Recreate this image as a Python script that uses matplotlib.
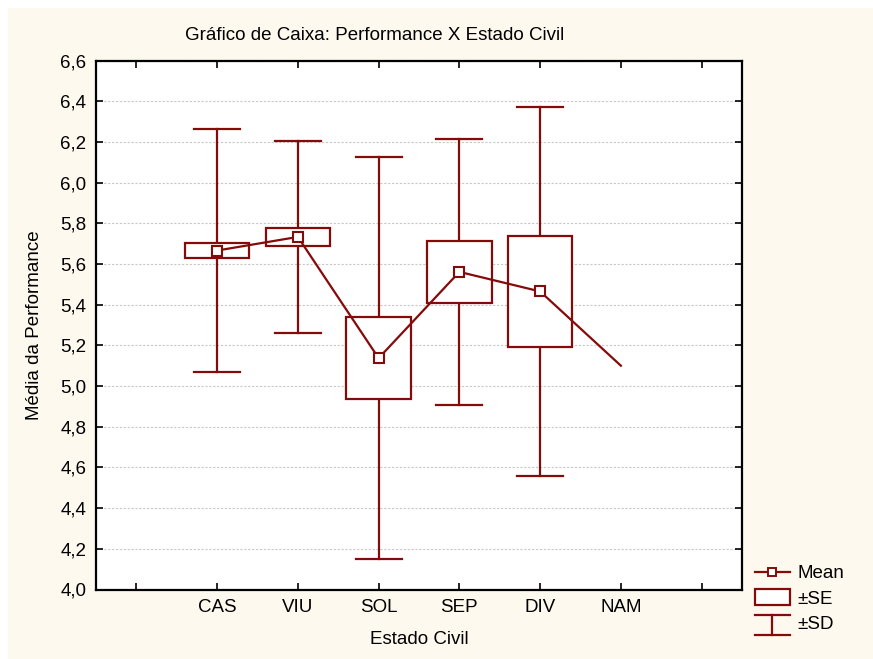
import matplotlib
matplotlib.use("Agg")
import matplotlib.pyplot as plt
from matplotlib.patches import Rectangle
from matplotlib.lines import Line2D
from matplotlib.legend_handler import HandlerBase

plt.rcParams['font.family'] = ['Liberation Sans', 'DejaVu Sans']

categories = ["CAS", "VIU", "SOL", "SEP", "DIV", "NAM"]
means = [5.666, 5.733, 5.137, 5.561, 5.465, 5.100]
se = [0.037, 0.045, 0.200, 0.153, 0.272, None]
sd = [0.597, 0.471, 0.988, 0.654, 0.906, None]
y_ticks = [4.0, 4.2, 4.4, 4.6, 4.8, 5.0, 5.2, 5.4, 5.6, 5.8, 6.0, 6.2, 6.4, 6.6]

RED = "#850a0a"
FS = 13.5
W, H = 873, 659
fig = plt.figure(figsize=(W / 100, H / 100), dpi=100, facecolor="white")
fig.patches.append(Rectangle((8 / W, 0), 1, 1 - 8 / H, transform=fig.transFigure,
                             facecolor="#fef9ee", edgecolor="none", zorder=-10))

ax = fig.add_axes([96 / W, 1 - 589.5 / H, (742 - 96) / W, (589.5 - 60.5) / H])
ax.set_facecolor("white")

xs = list(range(1, len(categories) + 1))
box_w = 0.8
cap_w = 0.57
for x, m, s_e, s_d in zip(xs, means, se, sd):
    if s_d is not None:
        ax.plot([x, x], [m - s_d, m + s_d], color=RED, lw=1.6, zorder=2)
        for yy in (m - s_d, m + s_d):
            ax.plot([x - cap_w / 2, x + cap_w / 2], [yy, yy], color=RED, lw=1.6, zorder=2)
    if s_e is not None:
        ax.add_patch(Rectangle((x - box_w / 2, m - s_e), box_w, 2 * s_e,
                               facecolor="white", edgecolor=RED, lw=1.6, zorder=3))

ax.plot(xs, means, color=RED, lw=1.6, zorder=4)
ax.plot(xs[:5], means[:5], linestyle="none", marker="s", markersize=7,
        markerfacecolor="white", markeredgecolor=RED, markeredgewidth=1.5, zorder=5)

ax.set_xlim(-0.5, 7.5)
ax.set_ylim(4.0, 6.6)
ax.set_xticks(range(0, 8))
ax.set_xticklabels([""] + categories + [""])
ax.set_yticks(y_ticks)
ax.set_yticklabels([f"{v:.1f}".replace(".", ",") for v in y_ticks])
ax.tick_params(direction="in", length=5, width=1.2, top=True, right=True,
               labelsize=FS, pad=7)
ax.yaxis.grid(True, linestyle=(0, (2, 1.5)), color="#c8c8c8", lw=0.8)
ax.set_axisbelow(True)
for sp in ax.spines.values():
    sp.set_linewidth(1.6)
    sp.set_color("black")

ax.set_xlabel("Estado Civil", fontsize=FS, labelpad=11)
ax.set_ylabel("Média da Performance", fontsize=FS, labelpad=12)
fig.text(375 / W, 1 - 36 / H, "Gráfico de Caixa: Performance X Estado Civil",
         ha="center", va="center", fontsize=FS)


class MeanHandler(HandlerBase):
    def create_artists(self, legend, orig, xd, yd, width, height, fontsize, trans):
        cy = yd + height / 2
        ln = Line2D([xd, xd + width], [cy, cy], color=RED, lw=1.6, transform=trans)
        mk = Line2D([xd + width / 2], [cy], marker="s", markersize=6,
                    markerfacecolor="white", markeredgecolor=RED,
                    markeredgewidth=1.4, transform=trans)
        return [ln, mk]


class SEHandler(HandlerBase):
    def create_artists(self, legend, orig, xd, yd, width, height, fontsize, trans):
        r = Rectangle((xd, yd - 1), width, height + 2, facecolor="white",
                      edgecolor=RED, lw=1.6, transform=trans)
        return [r]


class SDHandler(HandlerBase):
    def create_artists(self, legend, orig, xd, yd, width, height, fontsize, trans):
        top = yd + height + 1
        bot = yd - 4
        a = Line2D([xd, xd + width], [top, top], color=RED, lw=1.6, transform=trans)
        b = Line2D([xd, xd + width], [bot, bot], color=RED, lw=1.6, transform=trans)
        c = Line2D([xd + width / 2] * 2, [bot, top], color=RED, lw=1.6, transform=trans)
        return [a, b, c]


h_mean, h_se, h_sd = object(), object(), object()
fig.legend([h_mean, h_se, h_sd], ["Mean", "±SE", "±SD"],
           handler_map={h_mean: MeanHandler(), h_se: SEHandler(), h_sd: SDHandler()},
           loc="upper left", bbox_to_anchor=(755 / W, 1 - 565 / H),
           frameon=False, fontsize=FS, handlelength=1.85, handletextpad=0.4,
           labelspacing=0.45, borderaxespad=0, borderpad=0)

fig.savefig("out.png", dpi=100, facecolor=fig.get_facecolor())
